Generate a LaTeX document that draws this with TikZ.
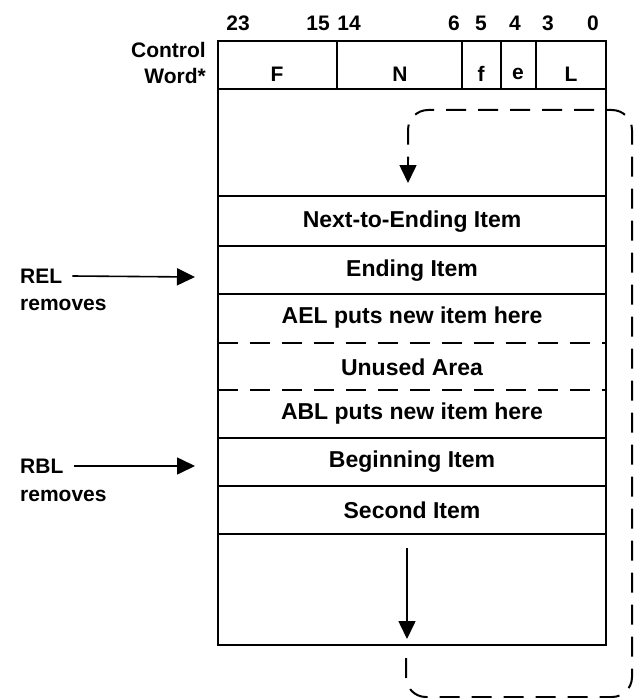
\documentclass[tikz,border=0pt]{standalone}
\usepackage{fontspec}
\setmainfont{Liberation Sans}
\usetikzlibrary{arrows.meta}
\begin{document}
\begin{tikzpicture}[x=1pt,y=-1pt,
  lbl/.style={font=\fontsize{21}{23}\selectfont\bfseries, inner sep=0pt},
  rowtxt/.style={font=\fontsize{23}{25}\selectfont\bfseries, inner sep=0pt, minimum width=388pt, minimum height=48pt},
  boxline/.style={line width=2pt},
  dline/.style={line width=2pt, dash pattern=on 20pt off 12pt},
  tri/.style={-{Triangle[length=18pt,width=17pt]}},
  solidarr/.style={line width=1.6pt, tri},
  dasharr/.style={line width=2pt, dash pattern=on 20pt off 12pt, rounded corners=20pt}
]
\useasboundingbox (0,0) rectangle (636,698);
% bit numbers
\node[lbl] (b23) at (238,23) {23};
\node[lbl] (b15) at (318,23) {15};
\node[lbl] (b14) at (349,23) {14};
\node[lbl] (b6) at (454,23) {6};
\node[lbl] (b5) at (481,23) {5};
\node[lbl] (b4) at (515,23) {4};
\node[lbl] (b3) at (548,23) {3};
\node[lbl] (b0) at (593,23) {0};
% control word label
\node[lbl, anchor=east] (cw1) at (206,50) {Control};
\node[lbl, anchor=east] (cw2) at (206,76) {Word*};
% outer box and lines
\draw[boxline] (218,41) rectangle (606,645);
\draw[boxline] (218,89) -- (606,89);
\draw[boxline] (337,41) -- (337,89);
\draw[boxline] (462,41) -- (462,89);
\draw[boxline] (501,41) -- (501,89);
\draw[boxline] (536,41) -- (536,89);
\foreach \yy in {196,246,294,438,486,534} \draw[boxline] (218,\yy) -- (606,\yy);
\draw[dline] (218,343) -- (606,343);
\draw[dline] (218,390) -- (606,390);
% field labels
\node[lbl] (fF) at (277,74) {F};
\node[lbl] (fN) at (400,74) {N};
\node[lbl] (ff) at (481,74) {f};
\node[lbl] (fe) at (518,74) {e};
\node[lbl] (fL) at (571,74) {L};
% rows
\node[rowtxt] (next) at (412,222) {Next-to-Ending Item};
\node[rowtxt] (ending) at (412,271) {Ending Item};
\node[rowtxt] (ael) at (412,318) {AEL puts new item here};
\node[rowtxt] (unused) at (412,367) {Unused Area};
\node[rowtxt] (abl) at (412,414) {ABL puts new item here};
\node[rowtxt] (begin) at (412,462) {Beginning Item};
\node[rowtxt] (second) at (412,510) {Second Item};
% left labels
\node[lbl, anchor=west] (rel) at (20,276) {REL};
\node[lbl, anchor=west] (relr) at (20,305) {removes};
\node[lbl, anchor=west] (rbl) at (20,466) {RBL};
\node[lbl, anchor=west] (rblr) at (20,496) {removes};
\coordinate (relTip) at (195,277);
\coordinate (rblTip) at (195,466);
\draw[solidarr] ([xshift=10pt]rel.east) -- (relTip);
\draw[solidarr] ([xshift=10pt]rbl.east) -- (rblTip);
% bottom solid arrow
\coordinate (downS) at (407,548);
\coordinate (downT) at (407,639);
\draw[solidarr] (downS) -- (downT);
% dashed wrap-around path
\coordinate (wStart) at (406,658);
\coordinate (wEnd) at (408,160);
\draw[dasharr] (wStart) -- (406,697) -- (632,697) -- (632,110) -- (408,110) -- (wEnd);
\coordinate (topS) at (408,160);
\coordinate (topT) at (408,183);
\draw[line width=1.6pt, tri] (topS) -- (topT);
\end{tikzpicture}
\end{document}
